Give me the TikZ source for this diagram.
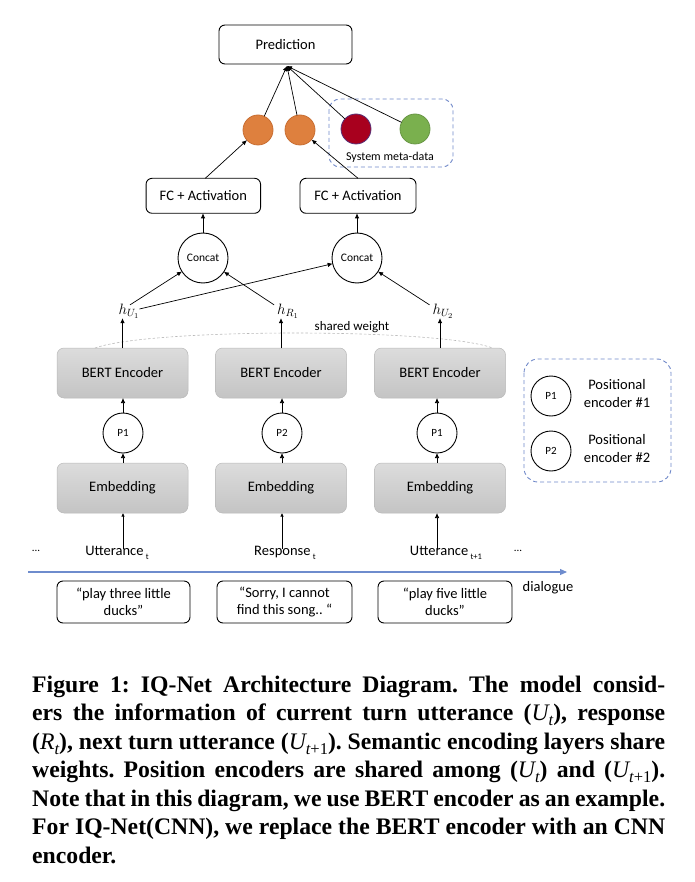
\RequirePackage{fix-cm}
\documentclass[tikz,border=0pt]{standalone}
\usepackage{fontspec}
\setmainfont{Carlito}
\newfontfamily\capfont{Liberation Serif}
\usetikzlibrary{arrows.meta}
\frenchspacing
\definecolor{gtop}{RGB}{220,220,220}
\definecolor{gbot}{RGB}{196,196,196}
\definecolor{gedge}{RGB}{185,185,185}
\definecolor{dashblue}{RGB}{110,135,200}
\definecolor{lineblue}{RGB}{110,140,205}
\definecolor{orangec}{RGB}{222,128,62}
\definecolor{orangee}{RGB}{200,110,50}
\definecolor{redc}{RGB}{168,0,30}
\definecolor{rede}{RGB}{90,50,120}
\definecolor{greenc}{RGB}{122,176,78}
\definecolor{greene}{RGB}{105,150,70}
\newcommand{\mysub}[1]{\raisebox{-0.28em}{\fontsize{8.5}{8.5}\selectfont #1}}
\newcommand{\cvar}[2]{{\mdseries\itshape #1}\raisebox{-0.22em}{\fontsize{16.5}{16.5}\selectfont\mdseries #2}}
\begin{document}
\begin{tikzpicture}[x=1pt,y=-1pt,
  every node/.style={inner sep=0pt,outer sep=0pt},
  wbox/.style={draw,line width=0.9pt,rounded corners=6pt,fill=white,font=\fontsize{14.5}{15}\selectfont},
  gbox/.style={draw=gedge,line width=0.5pt,rounded corners=7pt,top color=gtop,bottom color=gbot,
     minimum width=131pt,minimum height=50pt,font=\fontsize{14.5}{15}\selectfont},
  qbox/.style={draw,line width=0.9pt,rounded corners=6pt,minimum width=133pt,minimum height=42pt,
     align=center,font=\fontsize{14.5}{16.5}\selectfont},
  pcirc/.style={draw,line width=0.9pt,circle,minimum size=40pt,font=\fontsize{11}{11}\selectfont},
  ccirc/.style={draw,line width=0.9pt,circle,minimum size=50pt,font=\fontsize{11.5}{12}\selectfont},
  dot/.style={circle,minimum size=30pt,line width=0.8pt},
  arr/.style={-{Latex[length=5pt,width=4.5pt]},line width=0.7pt},
  lbl/.style={font=\fontsize{14.5}{15}\selectfont},
  dashbox/.style={draw=dashblue,dashed,dash pattern=on 4pt off 3pt,line width=0.9pt}
]
\useasboundingbox (0,0) rectangle (694,882);
% top
\node[wbox,minimum width=133pt,minimum height=39pt] (pred) at (285.5,44.5) {Prediction};
\coordinate (conv) at (287,66);
\draw[dashbox,rounded corners=11pt] (329,99) rectangle (453,167);
\node[dot,fill=orangec,draw=orangee] (o1) at (258,130) {};
\node[dot,fill=orangec,draw=orangee] (o2) at (300,130) {};
\node[dot,fill=redc,draw=rede] (rd) at (356,129) {};
\node[dot,fill=greenc,draw=greene] (gr) at (415,129) {};
\node[font=\fontsize{12}{12}\selectfont] (meta) at (390,157) {System meta-data};
\draw[arr] (o1) -- (conv);
\draw[arr] (o2) -- (conv);
\draw[arr] (rd) -- (conv);
\draw[arr] (gr) -- (conv);
% FC
\node[wbox,minimum width=114.5pt,minimum height=35pt] (fc1) at (203.3,195.8) {FC + Activation};
\node[wbox,minimum width=116pt,minimum height=35pt] (fc2) at (358,195.8) {FC + Activation};
\coordinate (f1n) at ([xshift=2pt]fc1.north);
\draw[arr] (f1n) -- (o1);
\draw[arr] (fc2.north) -- (o2);
% concat
\node[ccirc] (c1) at (203,258) {Concat};
\node[ccirc] (c2) at (357,258) {Concat};
\draw[arr] (c1.north) -- (c1.north |- fc1.south);
\draw[arr] (c2.north) -- (c2.north |- fc2.south);
% h labels
\node[font=\fontsize{15}{15}\selectfont] (hU1) at (129,311) {$h_{U_1}$};
\node[font=\fontsize{15}{15}\selectfont] (hR1) at (288,311) {$h_{R_1}$};
\node[font=\fontsize{15}{15}\selectfont] (hU2) at (443,311) {$h_{U_2}$};
\draw[arr] ([xshift=1pt,yshift=-1pt]hU1.north) -- (c1);
\draw[arr] ([yshift=2pt]hU1.east) -- (c2);
\draw[arr] ([xshift=-3pt,yshift=-1pt]hR1.north west) -- (c1);
\draw[arr] ([xshift=-3pt,yshift=-1pt]hU2.north west) -- (c2);
\node[font=\fontsize{13}{13}\selectfont] (sw) at (352,327) {shared weight};
% BERT
\node[gbox] (b1) at (122.5,373) {BERT Encoder};
\node[gbox] (b2) at (281,373) {BERT Encoder};
\node[gbox] (b3) at (440,373) {BERT Encoder};
\draw[gray!55,dashed,dash pattern=on 2.5pt off 2pt,line width=0.6pt] ([xshift=38pt]b1.north west) .. controls (150,328) and (440,328) .. ([xshift=-13pt]b3.north east);
\draw[arr] (b1.north) -- (b1.north |- hU1.south);
\draw[arr] (b2.north) -- (b2.north |- hR1.south);
\draw[arr] (b3.north) -- (b3.north |- hU2.south);
% P
\node[pcirc] (p1) at (123,433) {P1};
\node[pcirc] (p2) at (282,433) {P2};
\node[pcirc] (p3) at (437,433) {P1};
\draw[arr] (p1.north) -- (p1.north |- b1.south);
\draw[arr] (p2.north) -- (p2.north |- b2.south);
\draw[arr] (p3.north) -- (p3.north |- b3.south);
% Embedding
\node[gbox] (e1) at (122.5,488) {Embedding};
\node[gbox] (e2) at (281,488) {Embedding};
\node[gbox] (e3) at (440,488) {Embedding};
\draw[arr] (p1.south |- e1.north) -- (p1.south);
\draw[arr] (p2.south |- e2.north) -- (p2.south);
\draw[arr] (p3.south |- e3.north) -- (p3.south);
% labels
\node[lbl] (d1) at (36,551) {\fontsize{11}{11}\selectfont...};
\node[lbl,anchor=base] (u1) at (117,555) {Utterance\,\mysub{t}};
\node[lbl,anchor=base] (r1) at (285,555) {Response\,\mysub{t}};
\node[lbl,anchor=base] (u2) at (446,555) {Utterance\,\mysub{t+1}};
\node[lbl] (d2) at (518,551) {\fontsize{11}{11}\selectfont...};
\coordinate (u1t) at ([yshift=-3pt]p1.south |- u1.north);
\coordinate (r1t) at ([yshift=-3pt]p2.south |- r1.north);
\coordinate (u2t) at ([yshift=-3pt]p3.south |- u2.north);
\draw[-{Latex[length=3.5pt,width=3.5pt]},line width=0.6pt] (u1t) -- (u1t |- e1.south);
\draw[-{Latex[length=3.5pt,width=3.5pt]},line width=0.6pt] (r1t) -- (r1t |- e2.south);
\draw[arr] (u2t) -- (u2t |- e3.south);
% timeline
\coordinate (tl0) at (28,572);
\coordinate (tl1) at (567,572);
\draw[lineblue,line width=1.1pt,-{Triangle[length=7pt,width=6pt]}] (tl0) -- (tl1);
\node[lbl] (dlg) at (548,588) {dialogue};
% quote boxes
\node[qbox] (q1) at (123.5,602) {“play three little\\ducks”};
\node[qbox,minimum width=135pt] (q2) at (284.5,602) {“Sorry, I cannot\\find this song.. “};
\node[qbox,minimum width=134pt] (q3) at (445,602) {“play five little\\ducks”};
% legend
\draw[dashbox,rounded corners=14pt] (524,359) rectangle (671,482);
\node[pcirc] (lp1) at (551,396) {P1};
\node[pcirc] (lp2) at (551,451) {P2};
\node[lbl,align=center,font=\fontsize{14.5}{18}\selectfont] (lt1) at (617,394) {Positional\\encoder \#1};
\node[lbl,align=center,font=\fontsize{14.5}{18}\selectfont] (lt2) at (617,449) {Positional\\encoder \#2};
% caption
\begin{scope}[every node/.style={anchor=base west,inner sep=0pt,font=\capfont\bfseries\fontsize{23.7}{28.5}\selectfont}]
\node (cap1) at (32,692) {\makebox[633pt][s]{Figure 1: IQ-Net Architecture Diagram. The model consid-}};
\node (cap2) at (32,720.5) {\makebox[633pt][s]{ers the information of current turn utterance (\cvar{U}{\itshape t}), response}};
\node (cap3) at (32,749) {\makebox[633pt][s]{(\cvar{R}{\itshape t}), next turn utterance (\cvar{U}{{\itshape t}+1}). Semantic encoding layers share}};
\node (cap4) at (32,777.5) {\makebox[633pt][s]{weights. Position encoders are shared among (\cvar{U}{\itshape t}) and (\cvar{U}{{\itshape t}+1}).}};
\node (cap5) at (32,806) {\makebox[633pt][s]{Note that in this diagram, we use BERT encoder as an example.}};
\node (cap6) at (32,834.5) {\makebox[633pt][s]{For IQ-Net(CNN), we replace the BERT encoder with an CNN}};
\node (cap7) at (32,863) {encoder.};
\end{scope}
\end{tikzpicture}
\end{document}
